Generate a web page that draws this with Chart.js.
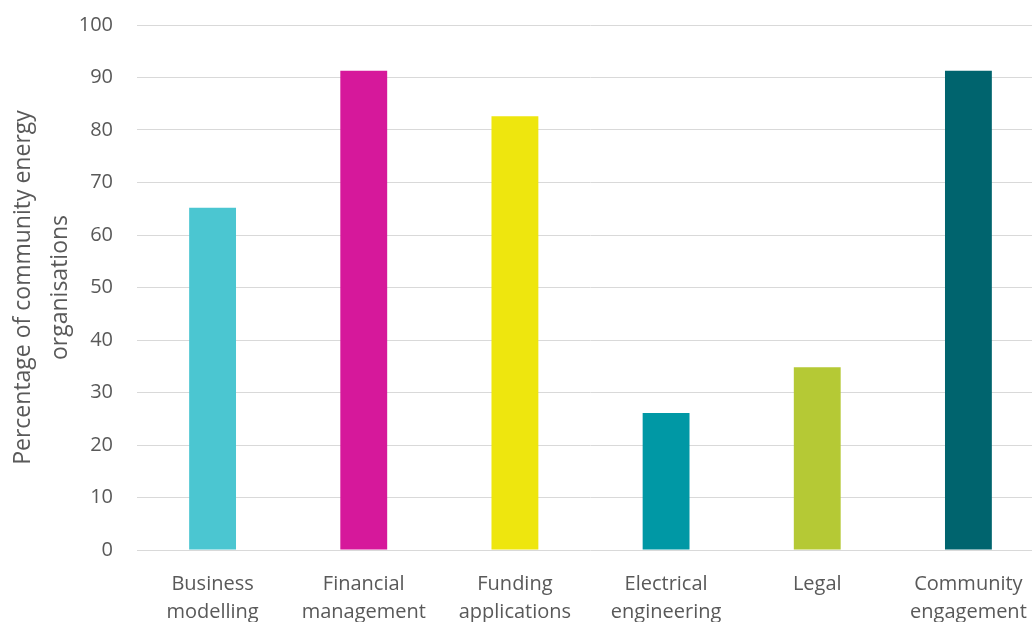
<!DOCTYPE html>
<html>
<head>
<meta charset="utf-8">
<script src="https://cdn.jsdelivr.net/npm/chart.js@4/dist/chart.umd.min.js"></script>
<style>
  html, body { margin: 0; padding: 0; background: #fff; overflow: hidden; }
  #wrap { width: 1044px; height: 653px; margin-top: -13px; }
</style>
</head>
<body>
<div id="wrap"><canvas id="chart" width="1044" height="653"></canvas></div>
<script>
// categories and values
const categories = [
  ['Business', 'modelling'],
  ['Financial', 'management'],
  ['Funding', 'applications'],
  ['Electrical', 'engineering'],
  ['Legal'],
  ['Community', 'engagement']
];
const percentages = [65.2, 91.3, 82.6, 26.1, 34.8, 91.3];
const barColours = ['#4BC6D1', '#D6189B', '#EEE60E', '#0098A5', '#B5C935', '#00646E'];
const yTitle = ['Percentage of community energy', 'organisations'];

const contingut = document.getElementById('chart');
const fontBase = { family: '"Open Sans", Lato, sans-serif', size: 20, lineHeight: 1.4 };

new Chart(contingut, {
  type: 'bar',
  data: {
    labels: categories,
    datasets: [{
      data: percentages,
      backgroundColor: barColours,
      borderWidth: 0,
      categoryPercentage: 1,
      barPercentage: 0.31
    }]
  },
  options: {
    responsive: false,
    animation: false,
    layout: { padding: { top: 15, left: 0, right: 0, bottom: 0 } },
    plugins: { legend: { display: false }, tooltip: { enabled: false } },
    scales: {
      x: {
        grid: { display: false },
        border: { display: false },
        ticks: { color: '#595959', font: fontBase, padding: 12, maxRotation: 0, autoSkip: false },
        afterFit: (s) => { s.height = 90; }
      },
      y: {
        min: 0,
        max: 100,
        ticks: { stepSize: 10, color: '#595959', font: fontBase, padding: 24 },
        grid: { color: '#D9D9D9', lineWidth: 1, drawTicks: false },
        border: { display: false },
        title: { display: true, text: yTitle, color: '#595959', font: { family: '"Open Sans", Lato, sans-serif', size: 23, lineHeight: 1.6 }, padding: { top: 5, bottom: 0 } },
        afterFit: (s) => { s.width = 137; }
      }
    }
  }
});
</script>
</body>
</html>
